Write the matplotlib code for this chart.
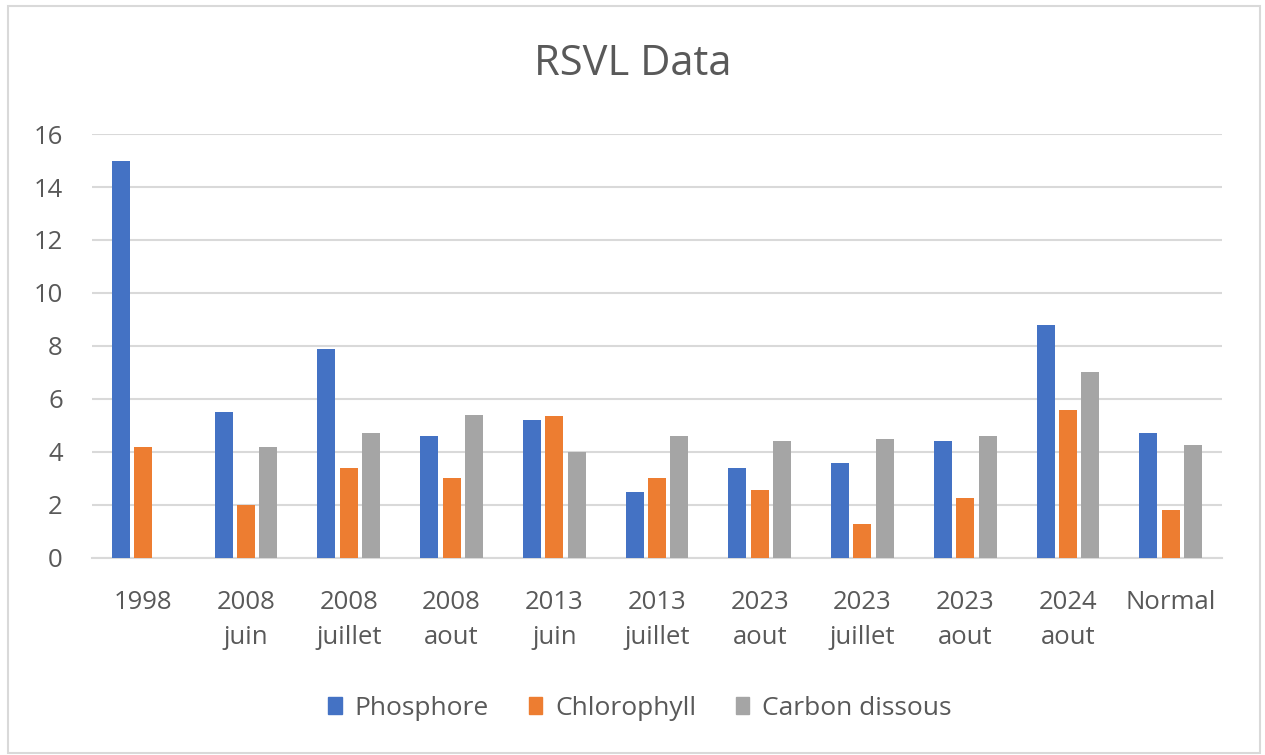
import matplotlib.pyplot as plt
import matplotlib.patches as mpatches
import numpy as np

categories = ['1998', '2008\njuin', '2008\njuillet', '2008\naout', '2013\njuin', '2013\njuillet',
              '2023\naout', '2023\njuillet', '2023\naout', '2024\naout', 'Normal']
phosphore = [15.0, 5.5, 7.9, 4.6, 5.2, 2.5, 3.4, 3.6, 4.4, 8.8, 4.7]
chlorophyll = [4.2, 2.0, 3.4, 3.0, 5.35, 3.0, 2.55, 1.3, 2.25, 5.6, 1.8]
carbon = [0, 4.2, 4.7, 5.4, 4.0, 4.6, 4.4, 4.5, 4.6, 7.0, 4.25]
series_names = ['Phosphore', 'Chlorophyll', 'Carbon dissous']
colors = ['#4472c4', '#ed7d31', '#a5a5a5']

plt.rcParams['font.family'] = ['Open Sans', 'DejaVu Sans']
text_color = '#595959'

fig = plt.figure(figsize=(12.65, 7.55), dpi=100)
# outer chart border
fig.patches.append(mpatches.Rectangle((8 / 1265, 0.002), 1252 / 1265, 0.99, transform=fig.transFigure,
                                      fill=False, edgecolor='#d9d9d9', linewidth=1.5))
ax = fig.add_axes([92 / 1265, 0.261, 1130 / 1265, 0.5615])

x = np.arange(len(categories))
width = 0.175
step = 0.218
for i, (vals, name, c) in enumerate(zip([phosphore, chlorophyll, carbon], series_names, colors)):
    ax.bar(x + (i - 1) * step, vals, width, color=c, label=name, zorder=3)

ax.set_xlim(-0.5, len(categories) - 0.5)
ax.set_ylim(0, 16)
ax.set_yticks(range(0, 17, 2))
ax.set_xticks(x)
ax.set_xticklabels(categories, linespacing=1.55)
ax.grid(axis='y', color='#d9d9d9', linewidth=1.5, zorder=0)
for s in ['top', 'right', 'left']:
    ax.spines[s].set_visible(False)
ax.spines['bottom'].set_color('#d9d9d9')
ax.spines['bottom'].set_linewidth(1.5)
ax.tick_params(axis='both', length=0, labelsize=18.5, labelcolor=text_color)
ax.tick_params(axis='x', pad=23)
ax.tick_params(axis='y', pad=21)

fig.text(0.5, 1 - 64 / 755, 'RSVL Data', fontsize=30, color=text_color, ha='center', va='center')

handles = [mpatches.Patch(color=c, label=n) for c, n in zip(colors, series_names)]
fig.legend(handles=handles, loc='center', bbox_to_anchor=(0.506, 0.062), ncol=3, frameon=False,
           fontsize=19, labelcolor=text_color, handlelength=0.5, handleheight=0.65,
           handletextpad=0.5, columnspacing=1.5)

plt.savefig('out.png', dpi=100)
